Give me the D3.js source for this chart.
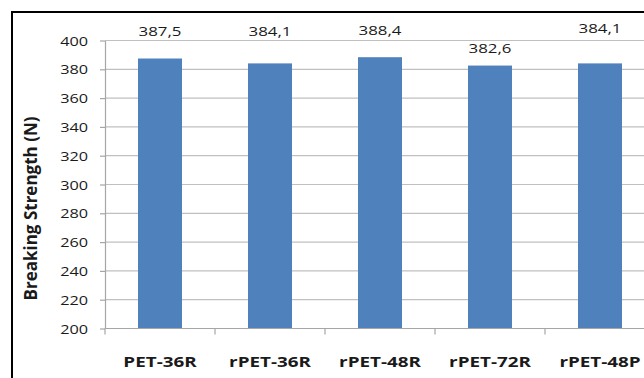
<!DOCTYPE html>
<html>
<head>
<meta charset="utf-8">
<script src="https://cdn.jsdelivr.net/npm/d3@7/dist/d3.min.js"></script>
<style>
  html, body { margin: 0; padding: 0; background: #fff; }
  svg { display: block; }
  text { font-family: "Open Sans", "DejaVu Sans", sans-serif; fill: #1a1a1a; }
</style>
</head>
<body>
<script>
// Breaking strength of the yarn samples
const categories = ["PET-36R", "rPET-36R", "rPET-48R", "rPET-72R", "rPET-48P"];
const strength = [387.5, 384.1, 388.4, 382.6, 384.1];
const valueLabels = ["387,5", "384,1", "388,4", "382,6", "384,1"];
const yTicks = [200, 220, 240, 260, 280, 300, 320, 340, 360, 380, 400];
const yTitle = "Breaking Strength (N)";

// vertical gap (px) between each bar top and its value label baseline
const labelGap = [22.5, 27.4, 22.2, 12.3, 30.4];

const W = 644, H = 378;
const plot = { left: 105, right: 655, top: 40.5, bottom: 328.5 };
const sx = 1.25; // horizontal stretch applied to horizontal text

const svg = d3.select("body").append("svg")
  .attr("width", W).attr("height", H);

svg.append("rect").attr("width", W).attr("height", H).attr("fill", "#fff");

// outer chart frame
svg.append("rect")
  .attr("x", 12).attr("y", 12)
  .attr("width", W + 20).attr("height", H + 20)
  .attr("fill", "none").attr("stroke", "#000").attr("stroke-width", 2);

const x = d3.scaleBand()
  .domain(categories)
  .range([plot.left, plot.right])
  .paddingInner(0.6)
  .paddingOuter(0.3);

const y = d3.scaleLinear()
  .domain([200, 400])
  .range([plot.bottom, plot.top]);

// horizontal gridlines
svg.append("g")
  .selectAll("line")
  .data(yTicks.filter(d => d > 200))
  .join("line")
  .attr("x1", plot.left).attr("x2", W)
  .attr("y1", d => y(d)).attr("y2", d => y(d))
  .attr("stroke", "#c0c0c0").attr("stroke-width", 1.2);

// y axis
const yAxis = svg.append("g")
  .attr("transform", `translate(${plot.left},0)`)
  .call(d3.axisLeft(y).tickValues(yTicks).tickSize(5).tickPadding(12).tickSizeOuter(0));
yAxis.select(".domain").attr("stroke", "#a6a6a6").attr("stroke-width", 1.2);
yAxis.selectAll(".tick line").attr("stroke", "#a6a6a6").attr("stroke-width", 1.2);
yAxis.selectAll(".tick text")
  .attr("font-size", 13)
  .attr("font-family", null)
  .attr("fill", "#1a1a1a")
  .attr("dy", "0.36em")
  .each(function () {
    const t = d3.select(this);
    const xx = +t.attr("x");
    t.attr("x", null).attr("transform", `translate(${xx},0) scale(${sx},1)`);
  });

// bars
svg.append("g")
  .selectAll("rect")
  .data(strength)
  .join("rect")
  .attr("x", (d, i) => x(categories[i]))
  .attr("width", x.bandwidth())
  .attr("y", d => y(d))
  .attr("height", d => y(200) - y(d))
  .attr("fill", "#4f81bd");

// x axis
const xAxisG = svg.append("g")
  .attr("transform", `translate(0,${plot.bottom})`);
xAxisG.append("line")
  .attr("x1", plot.left).attr("x2", W)
  .attr("stroke", "#a6a6a6").attr("stroke-width", 1.2);
const step = x.step();
xAxisG.selectAll("line.tick")
  .data(d3.range(categories.length + 1))
  .join("line").attr("class", "tick")
  .attr("x1", i => plot.left + i * step).attr("x2", i => plot.left + i * step)
  .attr("y1", 0).attr("y2", 6)
  .attr("stroke", "#a6a6a6").attr("stroke-width", 1.2);

// category labels
svg.append("g")
  .selectAll("text")
  .data(categories)
  .join("text")
  .attr("text-anchor", "middle")
  .attr("font-size", 14.5)
  .attr("font-weight", "bold")
  .attr("transform", d => `translate(${x(d) + x.bandwidth() / 2},367) scale(1.3,1)`)
  .text(d => d);

// value labels
svg.append("g")
  .selectAll("text")
  .data(strength)
  .join("text")
  .attr("text-anchor", "middle")
  .attr("font-size", 13.5)
  .attr("transform", (d, i) => `translate(${x(categories[i]) + x.bandwidth() / 2},${y(d) - labelGap[i]}) scale(${sx},1)`)
  .text((d, i) => valueLabels[i]);

// y axis title
svg.append("text")
  .attr("text-anchor", "middle")
  .attr("font-size", 17)
  .attr("font-weight", "bold")
  .attr("transform", `translate(37,${(115 + 302) / 2}) rotate(-90)`)
  .text(yTitle);
</script>
</body>
</html>
